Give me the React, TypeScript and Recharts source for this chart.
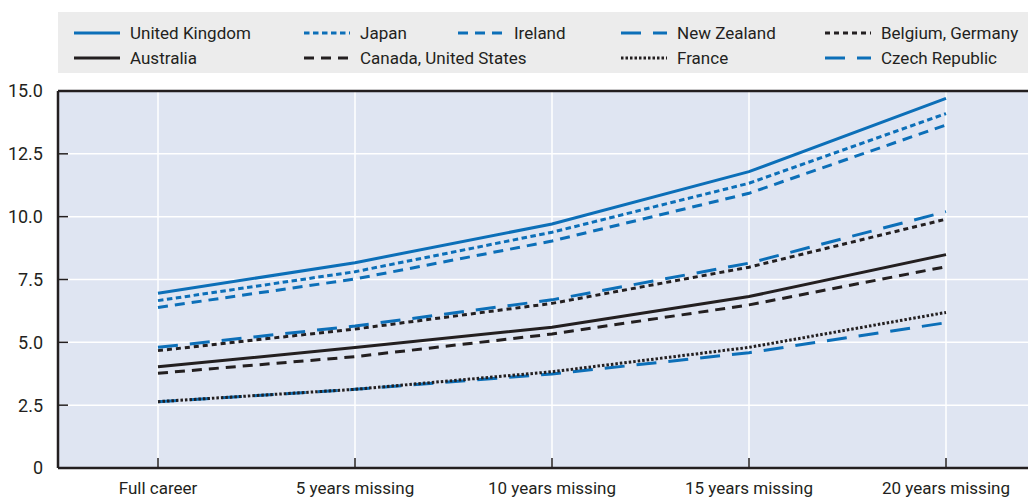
import { LineChart, Line, XAxis, YAxis, CartesianGrid, ReferenceLine } from 'recharts'

const FONT = "Roboto, 'Liberation Sans', sans-serif"
const BLUE = '#0c6fb8'
const INK = '#231f20'

const categories = ['Full career', '5 years missing', '10 years missing', '15 years missing', '20 years missing']
const yTicks = [0, 2.5, 5, 7.5, 10, 12.5, 15]

const unitedKingdom = [6.95, 8.17, 9.71, 11.79, 14.71]
const japan = [6.66, 7.81, 9.38, 11.33, 14.1]
const ireland = [6.39, 7.52, 9.03, 10.93, 13.65]
const newZealand = [4.8, 5.65, 6.69, 8.15, 10.2]
const belgiumGermany = [4.67, 5.53, 6.55, 7.99, 9.9]
const australia = [4.03, 4.79, 5.6, 6.82, 8.49]
const canadaUnitedStates = [3.77, 4.43, 5.33, 6.49, 8.01]
const france = [2.64, 3.13, 3.83, 4.8, 6.19]
const czechRepublic = [2.64, 3.13, 3.74, 4.59, 5.78]

const series = [
  { key: 'cz', name: 'Czech Republic', values: czechRepublic, color: BLUE, dash: '20 12' },
  { key: 'fr', name: 'France', values: france, color: INK, dash: '2.5 2' },
  { key: 'ca', name: 'Canada, United States', values: canadaUnitedStates, color: INK, dash: '10 7' },
  { key: 'au', name: 'Australia', values: australia, color: INK, dash: undefined },
  { key: 'be', name: 'Belgium, Germany', values: belgiumGermany, color: INK, dash: '5 4' },
  { key: 'nz', name: 'New Zealand', values: newZealand, color: BLUE, dash: '20 12' },
  { key: 'ie', name: 'Ireland', values: ireland, color: BLUE, dash: '10 7' },
  { key: 'jp', name: 'Japan', values: japan, color: BLUE, dash: '5.5 3.5' },
  { key: 'uk', name: 'United Kingdom', values: unitedKingdom, color: BLUE, dash: undefined },
]

const chartData = categories.map((category, i) => {
  const row: Record<string, string | number> = { category }
  series.forEach((s) => {
    row[s.key] = s.values[i]
  })
  return row
})

// legend slots (page coords of the sample start, row centre)
const legendSlots = [
  { key: 'uk', x: 74, y: 33 },
  { key: 'jp', x: 304, y: 33 },
  { key: 'ie', x: 458, y: 33 },
  { key: 'nz', x: 621, y: 33 },
  { key: 'be', x: 825, y: 33 },
  { key: 'au', x: 74, y: 58 },
  { key: 'ca', x: 304, y: 58 },
  { key: 'fr', x: 621, y: 58 },
  { key: 'cz', x: 825, y: 58 },
]

function ChartLegend() {
  return (
    <div
      style={{
        position: 'absolute',
        left: 58,
        top: 12,
        width: 1000,
        height: 61,
        background: '#ececec',
      }}
    >
      {legendSlots.map((slot) => {
        const s = series.find((d) => d.key === slot.key)!
        return (
          <div
            key={slot.key}
            style={{
              position: 'absolute',
              left: slot.x - 58,
              top: slot.y - 12 - 12,
              height: 24,
              display: 'flex',
              alignItems: 'center',
              whiteSpace: 'nowrap',
              fontFamily: FONT,
              fontSize: 17,
              color: INK,
            }}
          >
            <svg width={46} height={6} style={{ marginRight: 10 }}>
              <line x1={0} y1={3} x2={46} y2={3} stroke={s.color} strokeWidth={3} strokeDasharray={s.dash} />
            </svg>
            <span>{s.name}</span>
          </div>
        )
      })}
    </div>
  )
}

export default function App() {
  return (
    <div
      style={{
        position: 'fixed',
        left: 0,
        top: 0,
        width: 1028,
        height: 497,
        overflow: 'hidden',
        background: '#fff',
      }}
    >
      <ChartLegend />
      <LineChart
        width={1045}
        height={520}
        data={chartData}
        margin={{ top: 91, right: 0, bottom: 12, left: 0 }}
      >
        <CartesianGrid fill="#dfe5f2" stroke="#ffffff" strokeWidth={1.5} vertical horizontal />
        <XAxis
          dataKey="category"
          interval={0}
          height={40}
          padding={{ left: 100, right: 99 }}
          axisLine={{ stroke: INK, strokeWidth: 2.5 }}
          tickLine={{ stroke: INK, strokeWidth: 1.5 }}
          tickSize={-10}
          tickMargin={24}
          tick={{ fill: INK, fontSize: 17, fontFamily: FONT }}
        />
        <YAxis
          type="number"
          domain={[0, 15]}
          ticks={yTicks}
          interval={0}
          width={58}
          axisLine={{ stroke: INK, strokeWidth: 2.5 }}
          tickLine={{ stroke: INK, strokeWidth: 1.5 }}
          tickSize={-10}
          tickMargin={25}
          tick={{ fill: INK, fontSize: 18, fontFamily: FONT }}
          tickFormatter={(v: number) => (v === 0 ? '0' : v.toFixed(1))}
        />
        <ReferenceLine y={15} stroke={INK} strokeWidth={2.5} />
        {series.map((s) => (
          <Line
            key={s.key}
            type="linear"
            dataKey={s.key}
            name={s.name}
            stroke={s.color}
            strokeWidth={3}
            strokeDasharray={s.dash}
            dot={false}
            activeDot={false}
            isAnimationActive={false}
          />
        ))}
      </LineChart>
    </div>
  )
}
